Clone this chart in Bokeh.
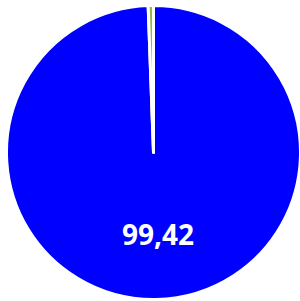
import numpy as np
from bokeh.plotting import figure
from bokeh.models import Range1d
from bokeh.core.properties import value
from bokeh.embed import file_html
from bokeh.resources import INLINE

labels = ["A", "B"]
values = [99.42, 0.58]
colors = ["#0000ff", "#8fbc3f"]

W, H = 300, 301
cx, cy = 153, H - 152
r = 147

p = figure(width=W, height=H, output_backend="svg", toolbar_location=None,
           x_range=Range1d(0, W), y_range=Range1d(0, H), min_border=0)
p.axis.visible = False
p.grid.visible = False
p.outline_line_color = None
p.background_fill_color = "white"
p.border_fill_color = "white"

vals = np.array(values)
frac = vals / vals.sum()
cum = np.concatenate([[0], np.cumsum(frac)])
starts = np.pi / 2 - 2 * np.pi * cum[:-1]
ends = np.pi / 2 - 2 * np.pi * cum[1:]

p.wedge(x=[cx] * len(vals), y=[cy] * len(vals), radius=r, radius_units="screen",
        start_angle=list(starts), end_angle=list(ends), direction="clock",
        fill_color=colors, line_color="white", line_width=3, line_join="round")

mid = (starts[0] + ends[0]) / 2
lx = cx + 0.56 * r * np.cos(mid)
ly = cy + 0.56 * r * np.sin(mid)
p.text(x=[lx], y=[ly], text=[f"{values[0]:.2f}".replace(".", ",")],
       x_offset=3,
       text_color="white", text_font=value("Open Sans"), text_font_style="bold",
       text_font_size="28px", text_align="center", text_baseline="middle")

open("out.html", "w").write(file_html(p, INLINE))
